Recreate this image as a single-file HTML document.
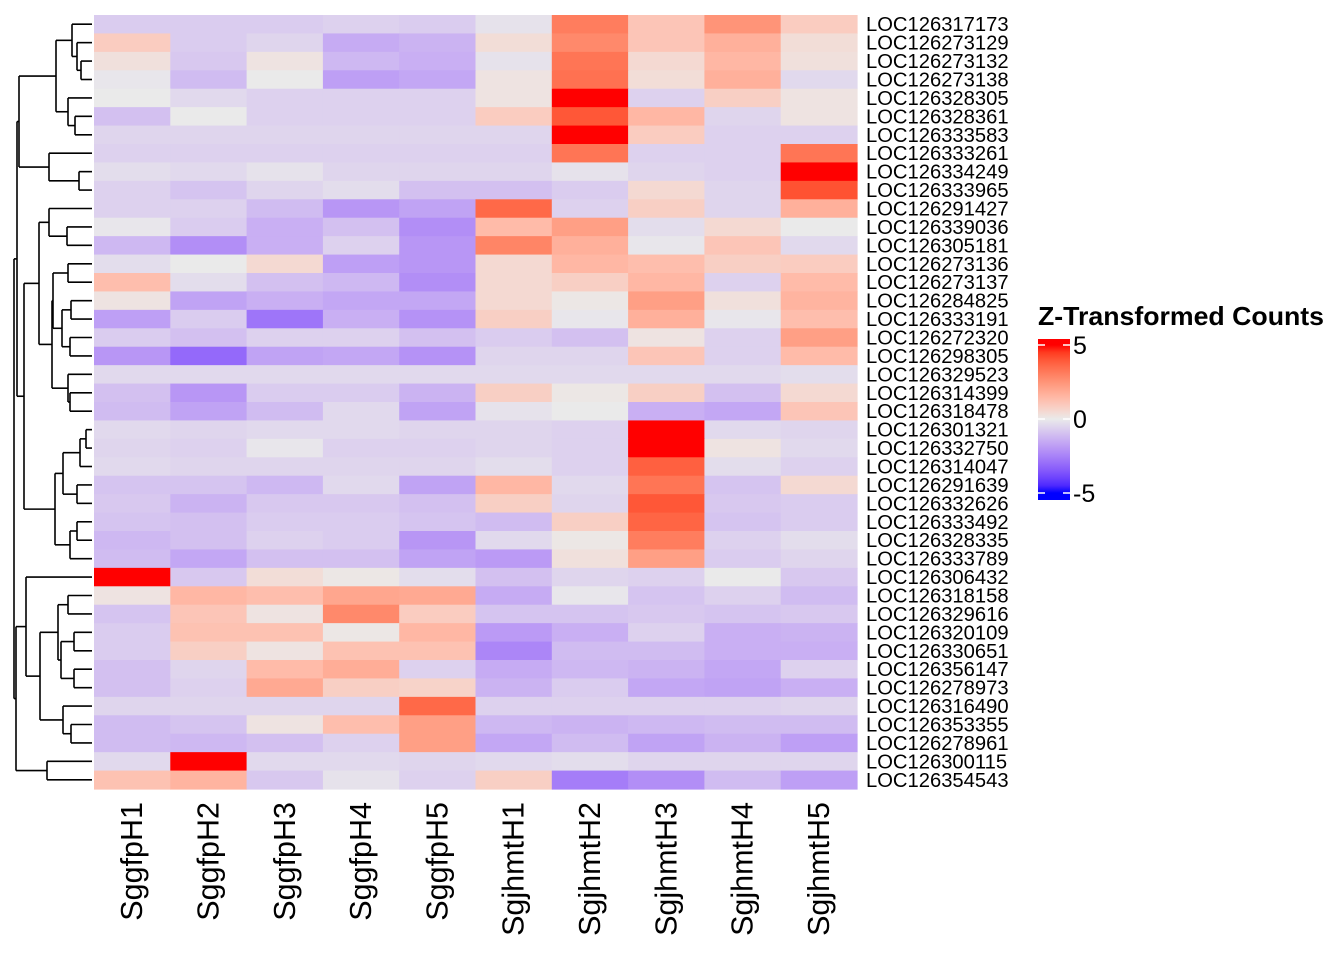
<!DOCTYPE html>
<html><head><meta charset="utf-8">
<style>
html,body{margin:0;padding:0;background:#fff;}
svg{display:block;font-family:"Liberation Sans",Arial,sans-serif;}
</style></head>
<body>
<svg id="chart" width="1344" height="960" viewBox="0 0 1344 960" xmlns="http://www.w3.org/2000/svg">
<g id="dendro"></g>
<g id="cells"></g>
<g id="rowlabels"></g>
<g id="collabels"></g>
<g id="legend">
<defs><linearGradient id="lg" x1="0" y1="1" x2="0" y2="0"></linearGradient></defs>
<text x="1038" y="325" font-size="26" font-weight="bold" textLength="286" lengthAdjust="spacingAndGlyphs">Z-Transformed Counts</text>
<rect x="1038" y="339" width="32" height="161" fill="url(#lg)"/>
</g>
</svg>
<script>
const columns = ["SggfpH1","SggfpH2","SggfpH3","SggfpH4","SggfpH5","SgjhmtH1","SgjhmtH2","SgjhmtH3","SgjhmtH4","SgjhmtH5"];
const rowNames = ["LOC126317173","LOC126273129","LOC126273132","LOC126273138","LOC126328305","LOC126328361","LOC126333583","LOC126333261","LOC126334249","LOC126333965","LOC126291427","LOC126339036","LOC126305181","LOC126273136","LOC126273137","LOC126284825","LOC126333191","LOC126272320","LOC126298305","LOC126329523","LOC126314399","LOC126318478","LOC126301321","LOC126332750","LOC126314047","LOC126291639","LOC126332626","LOC126333492","LOC126328335","LOC126333789","LOC126306432","LOC126318158","LOC126329616","LOC126320109","LOC126330651","LOC126356147","LOC126278973","LOC126316490","LOC126353355","LOC126278961","LOC126300115","LOC126354543"];
const zValues = [
[-0.7,-0.7,-0.7,-0.6,-0.7,-0.2,3.1,1.1,2.5,0.9],
[0.9,-0.7,-0.5,-1.5,-1.3,0.4,2.8,1.1,1.7,0.4],
[0.3,-0.8,0.2,-1.2,-1.4,-0.2,3.3,0.5,1.5,0.3],
[-0.1,-1.1,0,-1.8,-1.6,0.2,3.4,0.4,1.7,-0.4],
[0,-0.4,-0.6,-0.6,-0.6,0.2,5,-0.6,0.8,0.2],
[-1,0,-0.6,-0.6,-0.6,0.9,4.0,1.5,-0.5,0.2],
[-0.5,-0.5,-0.5,-0.5,-0.5,-0.5,5,0.9,-0.6,-0.6],
[-0.6,-0.6,-0.6,-0.6,-0.6,-0.6,3.3,-0.6,-0.6,3.3],
[-0.3,-0.4,-0.2,-0.5,-0.5,-0.5,-0.2,-0.5,-0.6,5],
[-0.6,-0.9,-0.5,-0.3,-1,-1,-0.7,0.5,-0.5,4.1],
[-0.6,-0.6,-1.1,-2,-1.7,3.6,-0.6,0.8,-0.5,1.7],
[-0.1,-0.7,-1.4,-1,-2.2,1.4,2.2,-0.3,0.5,0],
[-1.2,-2.2,-1.4,-0.6,-2,2.9,1.7,-0.1,1.1,-0.4],
[-0.3,0,0.5,-1.8,-2,0.5,1.5,1.3,0.8,0.9],
[1.3,-0.3,-1,-1.2,-2.2,0.5,0.8,1.5,-0.6,1.4],
[0.2,-1.7,-1.4,-1.6,-1.6,0.5,0.1,2.2,0.3,1.6],
[-1.8,-0.7,-2.8,-1.4,-2.1,0.8,-0.1,1.7,-0.1,1.3],
[-0.7,-1,-0.6,-0.6,-1,-0.7,-1,0.2,-0.6,2.2],
[-2,-3.1,-1.7,-1.6,-2.1,-0.5,-0.5,1.1,-0.6,1.4],
[-0.4,-0.4,-0.4,-0.4,-0.4,-0.4,-0.4,-0.4,-0.4,-0.3],
[-1,-2,-0.7,-0.7,-1.3,0.8,0.1,0.8,-1,0.5],
[-1.1,-1.7,-1.1,-0.4,-1.7,-0.2,0,-1.4,-1.6,1.1],
[-0.4,-0.5,-0.4,-0.4,-0.5,-0.5,-0.6,5,-0.4,-0.5],
[-0.5,-0.6,-0.1,-0.6,-0.6,-0.5,-0.6,5,0.2,-0.4],
[-0.4,-0.5,-0.5,-0.5,-0.5,-0.3,-0.6,3.8,-0.3,-0.6],
[-0.9,-0.9,-1.2,-0.4,-1.7,1.5,-0.4,3.3,-0.9,0.5],
[-0.8,-1.3,-0.8,-0.8,-1,0.8,-0.5,4.0,-0.8,-0.7],
[-0.9,-1,-0.7,-0.7,-0.9,-1.1,0.8,3.7,-0.9,-0.7],
[-1.2,-1,-0.6,-0.7,-2,-0.4,0.1,3.1,-0.6,-0.3],
[-1.1,-1.6,-1,-1,-1.7,-1.9,0.3,2.2,-0.7,-0.5],
[5,-0.8,0.4,0.1,-0.3,-1,-0.5,-0.6,0,-0.8],
[0.2,1.5,1.3,2.0,1.9,-1.5,-0.1,-0.9,-0.6,-1.1],
[-0.9,1.1,0.2,2.8,0.9,-0.9,-0.9,-0.8,-0.9,-0.8],
[-0.7,1.2,1.2,0.1,1.5,-1.9,-1.4,-0.6,-1.4,-1.3],
[-0.7,0.8,0.2,1.2,1.2,-2.4,-1.1,-1.1,-1.4,-1.4],
[-1,-0.5,1.4,1.8,-0.6,-1.5,-1.2,-1.3,-1.6,-0.6],
[-1,-0.6,1.9,0.8,0.7,-1.3,-0.7,-1.6,-1.7,-1.4],
[-0.5,-0.5,-0.5,-0.5,3.6,-0.6,-0.6,-0.6,-0.6,-0.5],
[-1.1,-0.9,0.2,1.3,2.2,-1.2,-1.3,-1.2,-1.1,-1.1],
[-1.1,-1.2,-1,-0.6,2.2,-1.6,-1.1,-1.7,-1.3,-1.8],
[-0.4,5,-0.4,-0.4,-0.5,-0.4,-0.3,-0.5,-0.5,-0.5],
[1.2,1.6,-0.8,-0.2,-0.6,0.8,-2.6,-2.2,-1.1,-1.8]
];
const legendTicks = [5, 0, -5];
</script>
<script>
const svgNS="http://www.w3.org/2000/svg";
const X0=94,X1=857,Y0=15,Y1=789;
const nR=rowNames.length,nC=columns.length;
const cw=(X1-X0)/nC, rh=(Y1-Y0)/nR;
function xScale(c){return X0+c*cw;}
function yScale(r){return Y0+r*rh;}
function srgb2lin(c){c/=255;return c<=0.04045?c/12.92:Math.pow((c+0.055)/1.055,2.4);}
function lin2srgb(c){c=c<=0.0031308?12.92*c:1.055*Math.pow(c,1/2.4)-0.055;return Math.max(0,Math.min(255,Math.round(c*255)));}
function rgb2lab(r,g,b){r=srgb2lin(r);g=srgb2lin(g);b=srgb2lin(b);
 let x=(r*0.4124+g*0.3576+b*0.1805)/0.95047,y=r*0.2126+g*0.7152+b*0.0722,z=(r*0.0193+g*0.1192+b*0.9505)/1.08883;
 const f=t=>t>0.008856?Math.cbrt(t):7.787*t+16/116;
 x=f(x);y=f(y);z=f(z);return [116*y-16,500*(x-y),200*(y-z)];}
function lab2rgb(L,a,b){let y=(L+16)/116,x=a/500+y,z=y-b/200;
 const fi=t=>t*t*t>0.008856?t*t*t:(t-16/116)/7.787;
 x=fi(x)*0.95047;y=fi(y);z=fi(z)*1.08883;
 const r=x*3.2406+y*-1.5372+z*-0.4986,g=x*-0.9689+y*1.8758+z*0.0415,bb=x*0.0557+y*-0.2040+z*1.0570;
 return `rgb(${lin2srgb(r)},${lin2srgb(g)},${lin2srgb(bb)})`;}
const cBlue=rgb2lab(0,0,255),cMid=rgb2lab(234,234,234),cRed=rgb2lab(255,0,0);
function color(v){v=Math.max(-5,Math.min(5,v));const t=Math.abs(v)/5;const e=v<0?cBlue:cRed;
 return lab2rgb(cMid[0]+(e[0]-cMid[0])*t,cMid[1]+(e[1]-cMid[1])*t,cMid[2]+(e[2]-cMid[2])*t);}
const cells=document.getElementById('cells');
zValues.forEach((row,r)=>row.forEach((v,c)=>{
 const el=document.createElementNS(svgNS,'rect');
 el.setAttribute('x',xScale(c));el.setAttribute('y',yScale(r));
 el.setAttribute('width',cw+0.6);el.setAttribute('height',rh+0.6);
 el.setAttribute('fill',color(v));
 
 
 cells.appendChild(el);}));
const rl=document.getElementById('rowlabels');
rowNames.forEach((n,r)=>{const t=document.createElementNS(svgNS,'text');
 t.setAttribute('x',866);t.setAttribute('y',yScale(r)+rh/2+7);t.setAttribute('font-size','20.2');t.textContent=n;
 
 
 rl.appendChild(t);});
const cl=document.getElementById('collabels');
columns.forEach((n,c)=>{const t=document.createElementNS(svgNS,'text');
 const x=xScale(c)+cw/2+10,y=802;
 t.setAttribute('transform',`translate(${x},${y}) rotate(-90)`);t.setAttribute('text-anchor','end');
 t.setAttribute('font-size','30.5');t.textContent=n;
 
 
 cl.appendChild(t);});
const tree = [
 [[[[0,[1,[2,3,81],77],72],[4,[5,6,75],68],56],[7,[8,9,79],49],19],
  [[[10,[11,12,67],49],[[[13,14,68],[[15,16,71],[17,18,70],62],53],[19,[20,21,70],68],52],39],
   [[[[22,23,86],24,80],[25,26,77],63],[[27,28,77],29,70],55],24],17],
 [[30,[[[31,32,68],[[33,34,74],[35,36,74],61],58],[37,[38,39,71],63],40],26],[40,41,47],16],14];
const dg=document.getElementById('dendro');
function line(x1,y1,x2,y2){const l=document.createElementNS(svgNS,'line');
 l.setAttribute('x1',x1);l.setAttribute('y1',y1);l.setAttribute('x2',x2);l.setAttribute('y2',y2);
 l.setAttribute('stroke','#000');l.setAttribute('stroke-width','1.6');
 
 
 dg.appendChild(l);}
function draw(node){
 if(typeof node==='number') return [92,yScale(node)+rh/2];
 const a=draw(node[0]),b=draw(node[1]),h=node[2];
 line(h,a[1],a[0],a[1]);line(h,b[1],b[0],b[1]);line(h,a[1],h,b[1]);
 return [h,(a[1]+b[1])/2];}
draw(tree);
// legend
const BAR_TOP=339,BAR_H=161,Y_P5=345,Y_M5=493;
function legY(v){return Y_M5+(v+5)/10*(Y_P5-Y_M5);}
const lg=document.getElementById('lg');
for(let i=0;i<=20;i++){const s=document.createElementNS(svgNS,'stop');const v=-5+i*0.5;
 s.setAttribute('offset',((BAR_TOP+BAR_H-legY(v))/BAR_H).toFixed(4));
 s.setAttribute('stop-color',color(v));lg.appendChild(s);}
const leg=document.getElementById('legend');
legendTicks.forEach(v=>{const y=legY(v);
 [[1038,1045],[1063,1070]].forEach(([a,b])=>{const l=document.createElementNS(svgNS,'line');
  l.setAttribute('x1',a);l.setAttribute('x2',b);l.setAttribute('y1',y);l.setAttribute('y2',y);
  l.setAttribute('stroke','#fff');l.setAttribute('stroke-width','1.5');
  
  
  leg.appendChild(l);});
 const t=document.createElementNS(svgNS,'text');t.setAttribute('x',1073);t.setAttribute('y',y+9);
 t.setAttribute('font-size','25');t.textContent=String(v);
 
 
 leg.appendChild(t);});
</script>
</body></html>
